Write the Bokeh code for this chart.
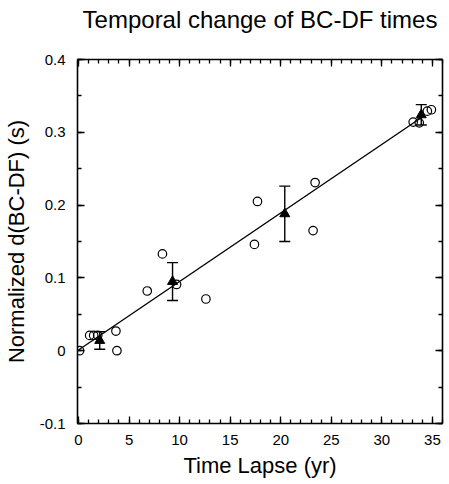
from bokeh.plotting import figure
from bokeh.models import (LinearAxis, Range1d, FixedTicker, Whisker, TeeHead,
                          ColumnDataSource, CustomJSTickFormatter)
from bokeh.embed import file_html
from bokeh.resources import INLINE

# open circles: individual measurements
obs_x = [0.1, 1.1, 1.5, 1.9, 3.7, 3.8, 6.8, 8.3, 9.7, 12.6, 17.4, 17.7, 23.2, 23.4, 33.1, 33.7, 34.5, 34.9]
obs_y = [0.0, 0.021, 0.021, 0.021, 0.027, 0.0, 0.082, 0.133, 0.091, 0.071, 0.146, 0.205, 0.165, 0.231, 0.314, 0.313, 0.329, 0.331]

# filled triangles: binned means with error bars
mean_x = [2.1, 9.3, 20.4, 33.9]
mean_y = [0.014, 0.095, 0.188, 0.324]
mean_err = [0.012, 0.026, 0.038, 0.014]

# linear fit
fit_x = [0.0, 34.0]
fit_y = [0.001, 0.321]

x_ticks = [0, 5, 10, 15, 20, 25, 30, 35]
y_ticks = [-0.1, 0.0, 0.1, 0.2, 0.3, 0.4]

TITLE = "Temporal change of BC-DF times"
FONT = "Liberation Sans"

p = figure(width=449, height=484, output_backend="svg", toolbar_location=None,
           x_range=Range1d(-0.1, 36), y_range=Range1d(-0.1, 0.4),
           x_axis_label="Time Lapse (yr)", y_axis_label="Normalized d(BC-DF) (s)",
           min_border_left=75, min_border_right=7, min_border_top=59, min_border_bottom=61)
p.grid.visible = False
p.outline_line_color = None
p.background_fill_color = "white"
p.border_fill_color = "white"

xt = FixedTicker(ticks=x_ticks, minor_ticks=list(range(0, 37)))
yt = FixedTicker(ticks=y_ticks, minor_ticks=[round(-0.1 + 0.05 * i, 2) for i in range(11)])

empty = CustomJSTickFormatter(code="return ''")

def style(ax, ticker, labels=True):
    ax.ticker = ticker
    ax.axis_line_width = 1.6
    ax.axis_line_color = "black"
    ax.major_tick_in = 7
    ax.major_tick_out = 0
    ax.minor_tick_in = 4
    ax.minor_tick_out = 0
    ax.major_tick_line_width = 1.3
    ax.minor_tick_line_width = 1.3
    ax.major_tick_line_color = "black"
    ax.minor_tick_line_color = "black"
    ax.major_label_text_font = FONT
    ax.major_label_text_font_size = "15px"
    ax.major_label_text_color = "black"
    ax.axis_label_text_font = FONT
    ax.axis_label_text_font_size = "22px"
    ax.axis_label_text_font_style = "normal"
    ax.axis_label_text_color = "black"
    if not labels:
        ax.formatter = empty
        ax.major_label_standoff = 0
        ax.major_label_text_font_size = "1px"

style(p.xaxis[0], xt)
style(p.yaxis[0], yt)
p.xaxis[0].major_label_standoff = 11
p.yaxis[0].major_label_standoff = 12
p.xaxis[0].axis_label_standoff = 5
p.yaxis[0].axis_label_standoff = 8
p.yaxis[0].major_label_overrides = {0: "0", -0.1: "-0.1", 0.1: "0.1", 0.2: "0.2", 0.3: "0.3", 0.4: "0.4"}

# top axis carries the chart title as its axis label
top = LinearAxis(axis_label=TITLE)
style(top, xt, labels=False)
top.axis_label_text_font_size = "24px"
top.axis_label_standoff = 27
p.add_layout(top, "above")
right = LinearAxis()
style(right, yt, labels=False)
p.add_layout(right, "right")

# fit line
p.line(fit_x, fit_y, line_color="black", line_width=1.4)

# error bars
src = ColumnDataSource(dict(x=mean_x, y=mean_y,
                            lo=[m - e for m, e in zip(mean_y, mean_err)],
                            hi=[m + e for m, e in zip(mean_y, mean_err)]))
w = Whisker(source=src, base="x", lower="lo", upper="hi", dimension="height",
            line_color="black", line_width=1.4,
            upper_head=TeeHead(size=11, line_color="black", line_width=1.4),
            lower_head=TeeHead(size=11, line_color="black", line_width=1.4))
p.add_layout(w)

# open circles
p.scatter(obs_x, obs_y, marker="circle", size=8.5, fill_color="white", fill_alpha=0.0,
          line_color="black", line_width=1.2)

# triangles
p.scatter(mean_x, mean_y, marker="triangle", size=10, fill_color="black", line_color="black")

open("out.html", "w").write(file_html(p, INLINE))
